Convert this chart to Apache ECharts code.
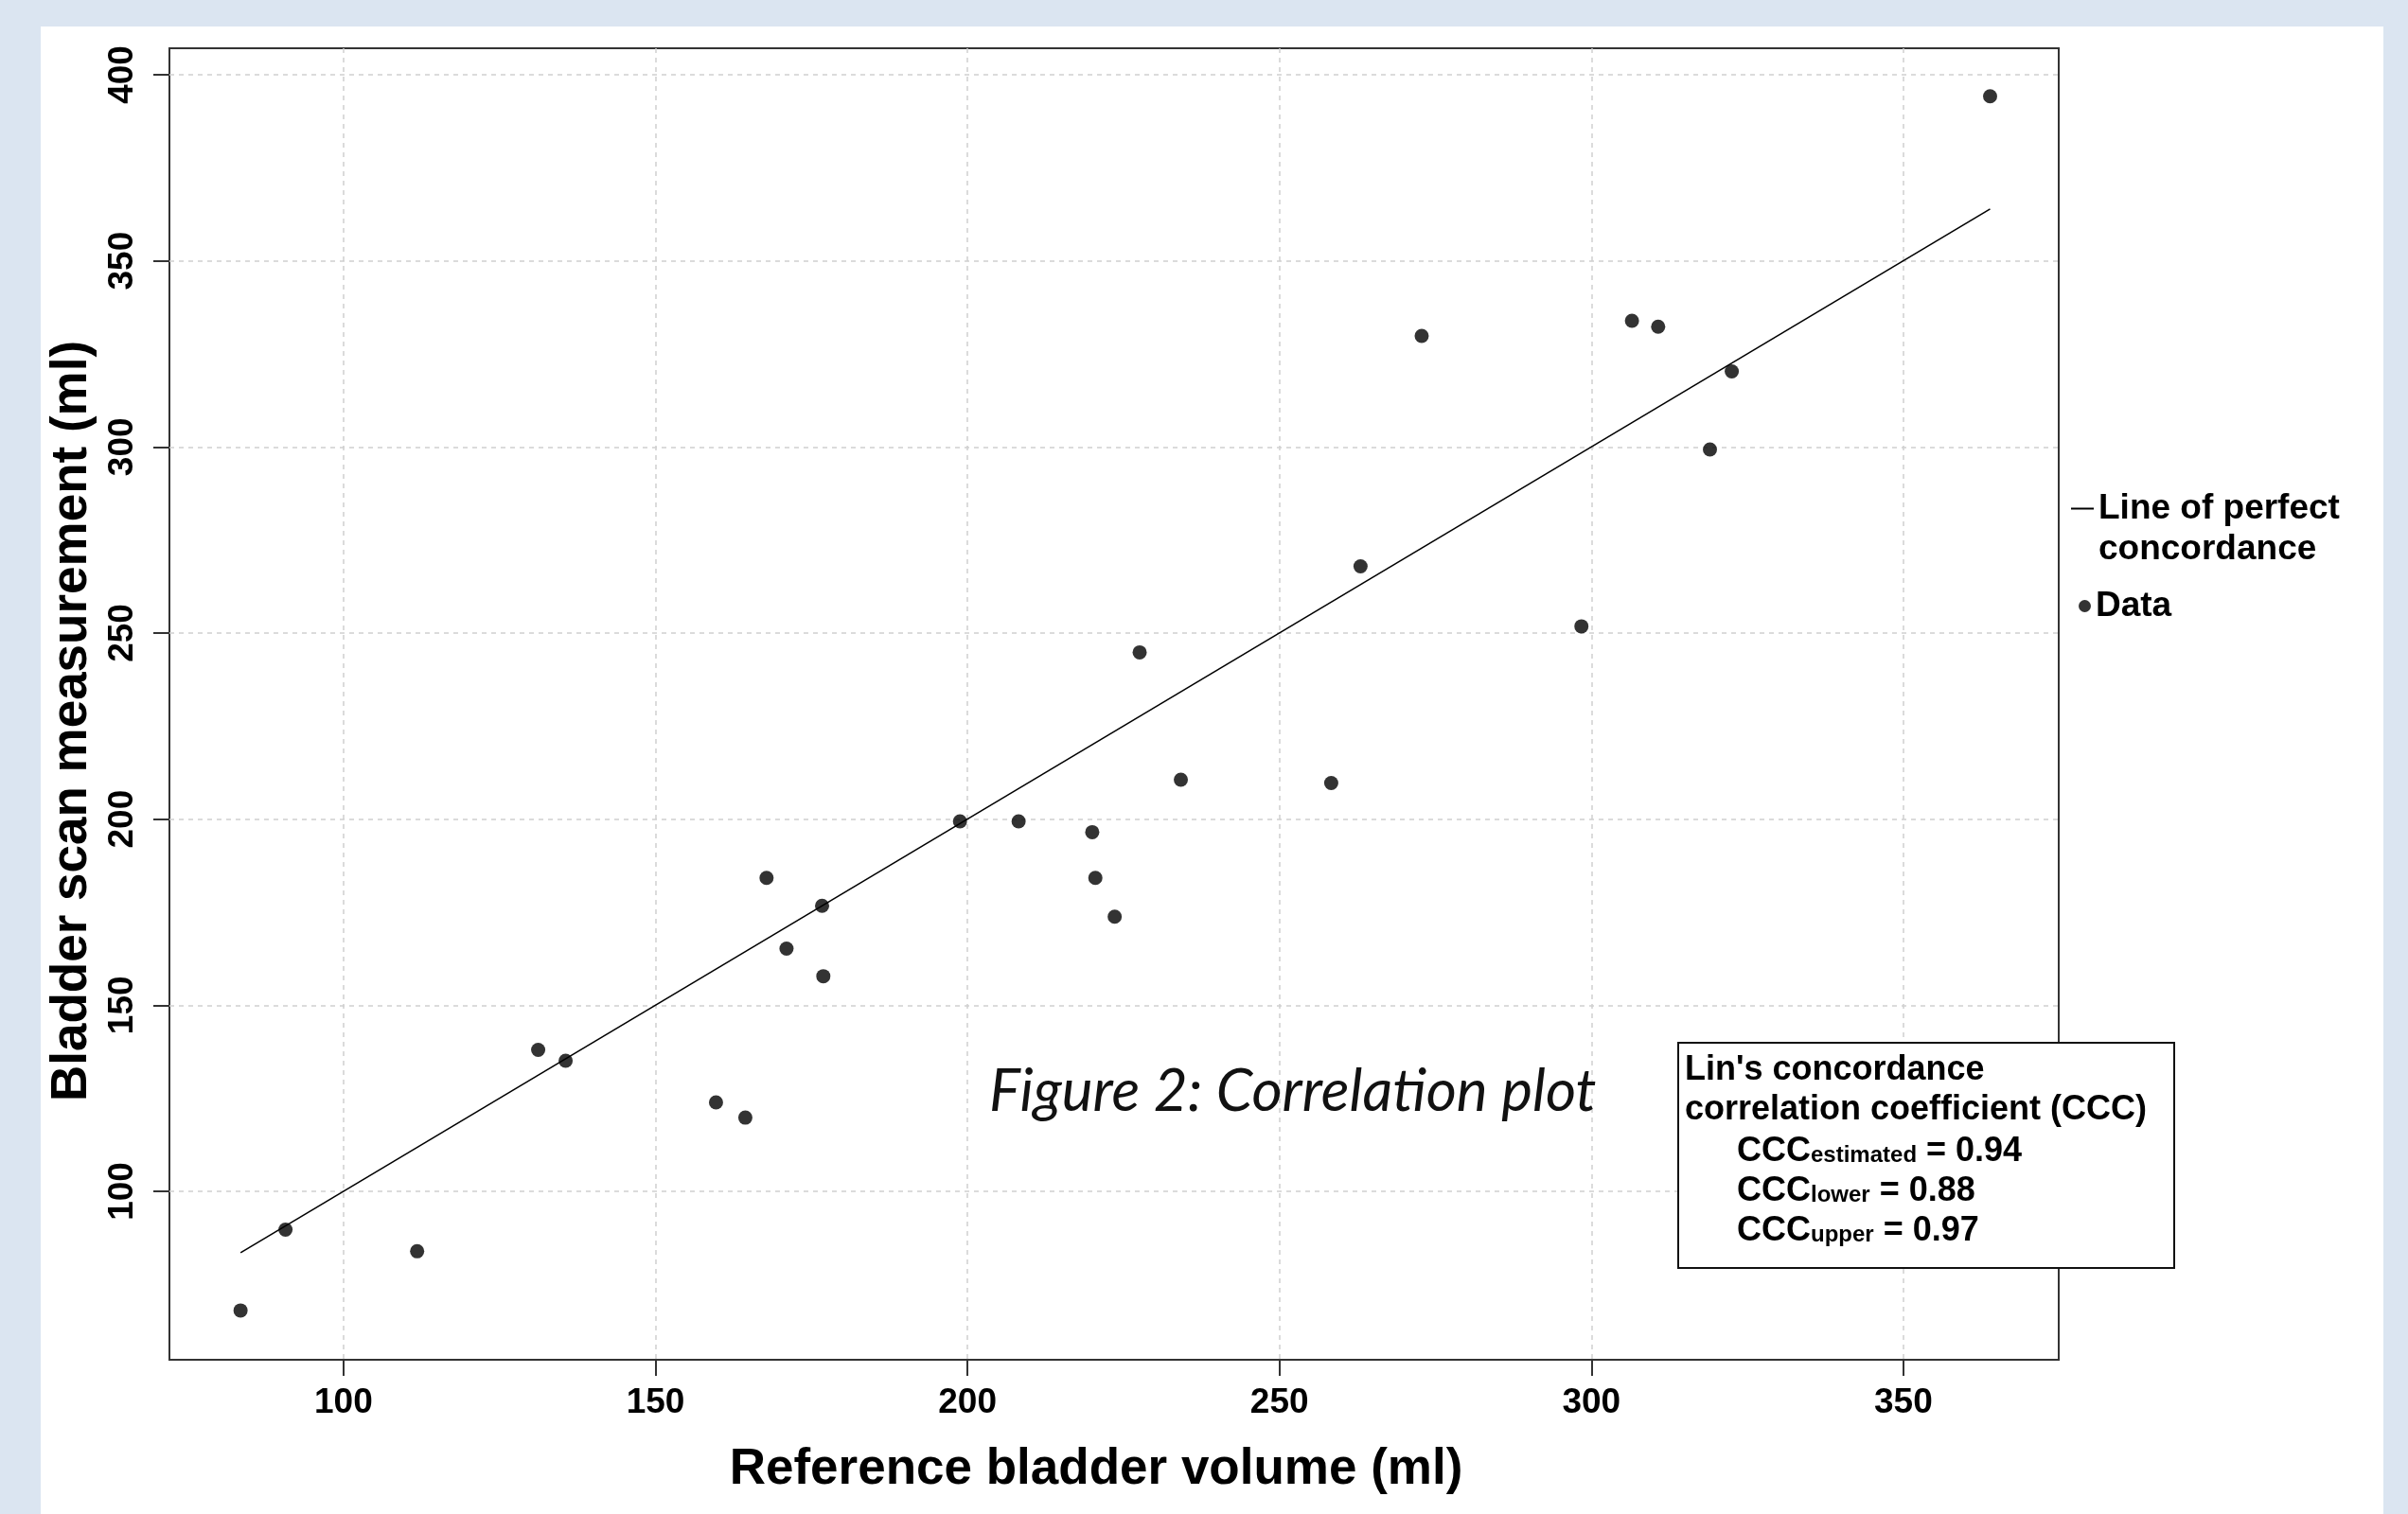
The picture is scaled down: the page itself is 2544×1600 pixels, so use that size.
<!DOCTYPE html>
<html>
<head>
<meta charset="utf-8">
<title>Correlation plot</title>
<script src="https://cdn.jsdelivr.net/npm/echarts@6/dist/echarts.min.js"></script>
<style>
  html, body { margin: 0; padding: 0; background: #dbe5f1; }
  #chart { width: 2544px; height: 1600px; }
</style>
</head>
<body>
<div id="chart"></div>
<script>
  // values
  const refVolume = [83.5, 90.7, 111.8, 131.2, 135.6, 159.7, 164.4, 167.8, 171.0, 176.7, 176.9, 198.8, 208.2, 220.0, 220.5, 223.6, 227.6, 234.2, 258.3, 263.0, 272.8, 298.4, 306.5, 310.7, 319.0, 322.5, 363.9];
  const scanVolume = [68.0, 89.7, 83.9, 138.0, 135.1, 123.9, 119.8, 184.2, 165.2, 176.7, 157.8, 199.4, 199.4, 196.5, 184.2, 173.8, 244.8, 210.6, 209.7, 267.9, 329.8, 251.8, 333.9, 332.3, 299.3, 320.3, 394.2];
  const xTicks = [100, 150, 200, 250, 300, 350];
  const yTicks = [100, 150, 200, 250, 300, 350, 400];
  const xLimits = [72.1, 374.9];
  const yLimits = [54.75, 407.1];
  const cccNames = ['estimated', 'lower', 'upper'];
  const cccValues = ['0.94', '0.88', '0.97'];

  const font = '"Liberation Sans", Arial, sans-serif';

  const xLo = Math.min(...refVolume), xHi = Math.max(...refVolume);
  const points = refVolume.map((v, i) => [v, scanVolume[i]]);

  const chart = echarts.init(document.getElementById('chart'));

  const gridLine = { color: '#cfcfcf', width: 1.5, type: [5, 5] };
  const tickLine = { color: '#333', width: 2 };
  const legendText = { fontFamily: font, fontSize: 37, fontWeight: 'bold', color: '#000', lineHeight: 43 };

  chart.setOption({
    animation: false,
    grid: {
      left: 179, right: 369, top: 51, bottom: 163,
      show: true, backgroundColor: '#fff', borderColor: '#333', borderWidth: 2
    },
    legend: [
      {
        data: [{ name: 'Line of perfect concordance', icon: 'rect' }],
        orient: 'vertical', left: 2188, top: 473, padding: 0,
        itemWidth: 24, itemHeight: 2,
        // empty first row so the icon sits on the first text row
        formatter: () => ' \nLine of perfect\nconcordance',
        textStyle: legendText
      },
      {
        data: [{ name: 'Data', icon: 'circle' }],
        orient: 'vertical', left: 2196, top: 619, padding: 0,
        itemWidth: 13, itemHeight: 13,
        textStyle: legendText
      }
    ],
    xAxis: {
      type: 'value', min: xLimits[0], max: xLimits[1], splitNumber: 5,
      axisLine: { show: false },
      axisTick: { show: true, length: 17, lineStyle: tickLine, customValues: xTicks },
      axisLabel: { customValues: xTicks, fontFamily: font, fontSize: 37, fontWeight: 'bold', color: '#000', margin: 27 },
      splitLine: { show: true, lineStyle: gridLine },
      name: 'Reference bladder volume (ml)', nameLocation: 'middle', nameGap: 90,
      nameTextStyle: { fontFamily: font, fontSize: 53, fontWeight: 'bold', color: '#000', padding: [0, 38, 0, 0] }
    },
    yAxis: {
      type: 'value', min: yLimits[0], max: yLimits[1], splitNumber: 7,
      axisLine: { show: false },
      axisTick: { show: true, length: 17, lineStyle: tickLine, customValues: yTicks },
      axisLabel: { customValues: yTicks, rotate: 90, fontFamily: font, fontSize: 37, fontWeight: 'bold', color: '#000', margin: 31 },
      splitLine: { show: true, lineStyle: gridLine },
      name: 'Bladder scan measurement (ml)', nameLocation: 'middle', nameGap: 76, nameRotate: 90,
      nameTextStyle: { fontFamily: font, fontSize: 53, fontWeight: 'bold', color: '#000', padding: [0, 36, 0, 0] }
    },
    series: [
      {
        name: 'Line of perfect concordance',
        type: 'line',
        data: [[xLo, xLo], [xHi, xHi]],
        showSymbol: false,
        lineStyle: { color: '#000', width: 1.6 },
        itemStyle: { color: '#000' },
        z: 3
      },
      {
        name: 'Data',
        type: 'scatter',
        data: points,
        symbolSize: 15,
        itemStyle: { color: '#000' },
        z: 4
      }
    ],
    graphic: [
      {
        type: 'rect', z: -100, silent: true,
        shape: { x: 43, y: 28, width: 2475, height: 1572 },
        style: { fill: '#fff' }
      },
      {
        type: 'text', x: 1045, y: 1154, z: 10,
        style: {
          text: 'Figure 2: Correlation plot',
          font: 'italic 62px Lato, "Open Sans", sans-serif',
          fill: '#111', verticalAlign: 'middle'
        }
      },
      {
        type: 'rect', z: 10,
        shape: { x: 1773, y: 1102, width: 524, height: 238 },
        style: { fill: '#fff', stroke: '#111', lineWidth: 2 }
      },
      {
        type: 'text', x: 1780, y: 1110, z: 11,
        style: {
          text: "Lin's concordance\ncorrelation coefficient (CCC)",
          fontFamily: font, fontSize: 36, fontWeight: 'bold', lineHeight: 42, fill: '#000'
        }
      },
      {
        type: 'text', x: 1835, y: 1193, z: 11,
        style: {
          text: cccNames.map((n, i) => '{m|CCC}{s|' + n + '}{m| = ' + cccValues[i] + '}').join('\n'),
          fill: '#000',
          rich: {
            m: { fontFamily: font, fontSize: 36, fontWeight: 'bold', lineHeight: 42, verticalAlign: 'bottom', fill: '#000' },
            s: { fontFamily: font, fontSize: 24, fontWeight: 'bold', lineHeight: 42, verticalAlign: 'bottom', fill: '#000', padding: [0, 0, 2, 0] }
          }
        }
      }
    ]
  });
</script>
</body>
</html>
